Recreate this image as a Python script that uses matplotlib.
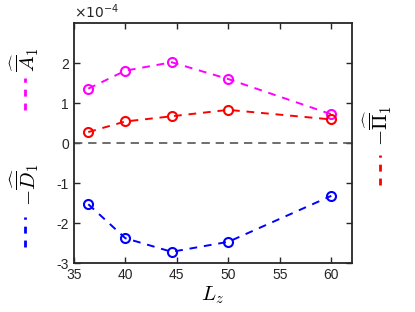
import numpy as np
import matplotlib
matplotlib.use('Agg')
import matplotlib.pyplot as plt
from matplotlib.lines import Line2D

plt.rcParams['font.family'] = ['Liberation Sans', 'DejaVu Sans']
plt.rcParams['mathtext.fontset'] = 'cm'

# data (values in units of 1e-4)
Lz = [36.4, 40, 44.5, 50, 60]
A1 = [1.36, 1.81, 2.02, 1.60, 0.72]
Pi1 = [0.275, 0.54, 0.67, 0.83, 0.59]
D1 = [-1.53, -2.38, -2.72, -2.47, -1.32]

fig = plt.figure(figsize=(4.15, 3.12), dpi=100)
ax = fig.add_axes([0.178, 0.157, 0.670, 0.769])

ax.axhline(0, color='#555555', ls='--', lw=1.2, dashes=(5, 3.5))
ax.plot(Lz, A1, '--o', color='magenta', lw=1.4, ms=6.5, mfc='none', mew=1.5, dashes=(4, 3.5))
ax.plot(Lz, Pi1, '--o', color='red', lw=1.4, ms=6.5, mfc='none', mew=1.5, dashes=(4, 3.5))
ax.plot(Lz, D1, '--o', color='blue', lw=1.4, ms=6.5, mfc='none', mew=1.5, dashes=(4, 3.5))

ax.set_xlim(35, 62)
ax.set_ylim(-3, 3)
ax.set_xticks([35, 40, 45, 50, 55, 60])
ax.set_yticks([-3, -2, -1, 0, 1, 2])
ax.set_yticklabels(['-3', '-2', '-1', '0', '1', '2'])
ax.tick_params(direction='in', top=True, right=True, labelsize=10, length=4, width=1, colors='#262626')
for s in ax.spines.values():
    s.set_linewidth(1.3)
    s.set_color('#262626')
ax.set_xlabel(r'$L_z$', fontsize=15, labelpad=2)
ax.text(0.0, 1.01, r'$\times10^{-4}$', transform=ax.transAxes, fontsize=10,
        ha='left', va='bottom', color='#262626', math_fontfamily='dejavusans')

# legend-like labels
fig.text(0.060, 0.808, r'$\widehat{\overline{A}}_1$', rotation=90, fontsize=15, ha='center', va='center')
fig.add_artist(Line2D([0.060, 0.060], [0.647, 0.750], color='magenta', lw=2, ls='--', dashes=(2.5, 2.5)))
fig.text(0.060, 0.407, r'$-\widehat{\overline{D}}_1$', rotation=90, fontsize=15, ha='center', va='center')
fig.add_artist(Line2D([0.060, 0.060], [0.208, 0.304], color='blue', lw=2, ls='--', dashes=(2.5, 2.5)))
fig.text(0.911, 0.596, r'$-\widehat{\overline{\Pi}}_1$', rotation=90, fontsize=15, ha='center', va='center')
fig.add_artist(Line2D([0.916, 0.916], [0.407, 0.503], color='red', lw=2, ls='--', dashes=(2.5, 2.5)))

fig.savefig('out.png', dpi=100)
